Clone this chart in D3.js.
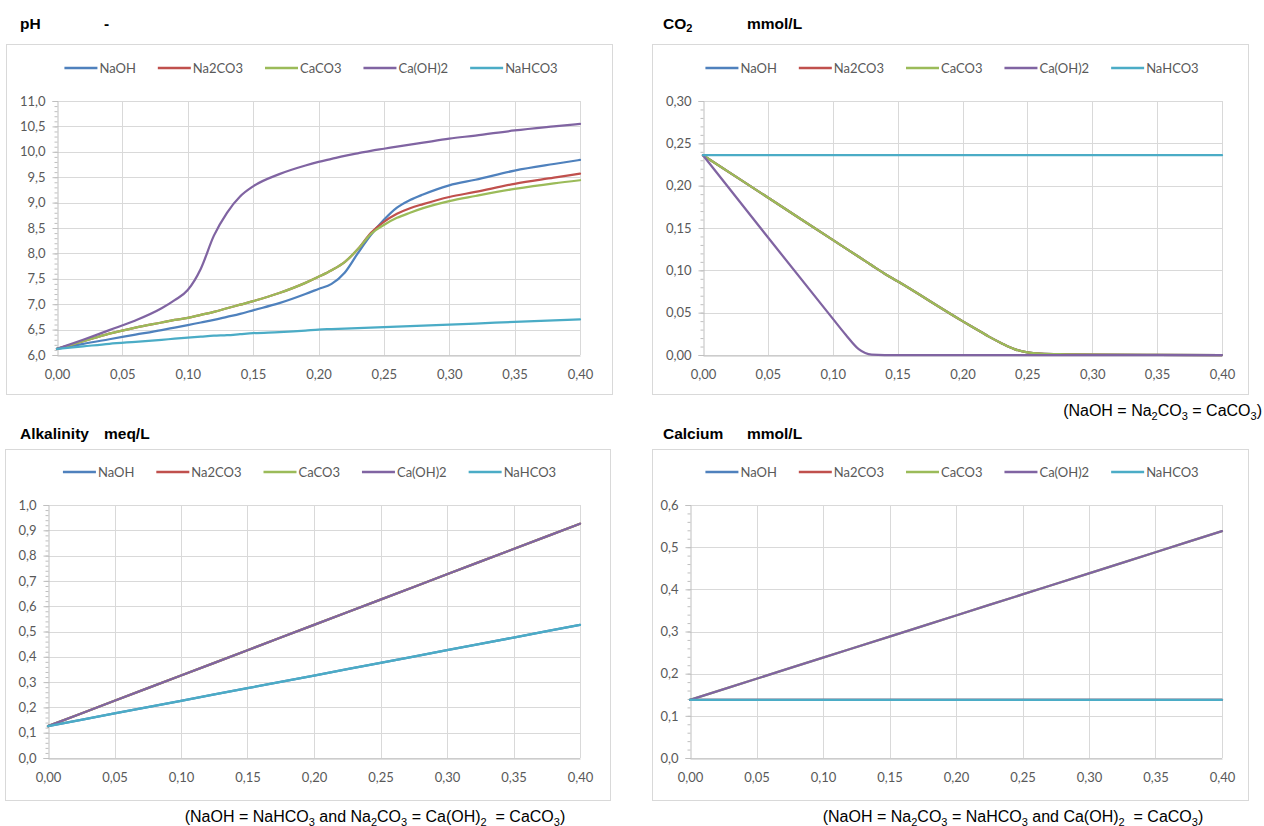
<!DOCTYPE html>
<html>
<head>
<meta charset="utf-8">
<script src="https://cdn.jsdelivr.net/npm/d3@7"></script>
<style>
  body { margin: 0; background: #ffffff; }
  svg { display: block; }
  text.note { white-space: pre; }
</style>
</head>
<body>
<svg id="chart" width="1264" height="826"></svg>
<script>
// ---- Series shared by all four panels ----
const seriesNames = ["NaOH", "Na2CO3", "CaCO3", "Ca(OH)2", "NaHCO3"];
const seriesColors = ["#4F81BD", "#C0504D", "#9BBB59", "#8064A2", "#4BACC6"];

// Dose axis ticks (mmol/L of chemical added)
const doseTicks = [0, 0.05, 0.10, 0.15, 0.20, 0.25, 0.30, 0.35, 0.40];

// ---- pH ----
const phDose    = [0, 0.02, 0.04, 0.06, 0.08, 0.09, 0.10, 0.11, 0.12, 0.13, 0.14, 0.15, 0.17, 0.19, 0.20, 0.21, 0.22, 0.23, 0.24, 0.25, 0.26, 0.27, 0.28, 0.30, 0.32, 0.35, 0.38, 0.40];
const phNaOH    = [6.12, 6.22, 6.31, 6.40, 6.49, 6.54, 6.59, 6.64, 6.69, 6.75, 6.81, 6.88, 7.02, 7.20, 7.30, 7.40, 7.62, 8.00, 8.36, 8.66, 8.90, 9.05, 9.16, 9.34, 9.45, 9.63, 9.76, 9.84];
const phNa2CO3  = [6.12, 6.27, 6.42, 6.54, 6.64, 6.69, 6.73, 6.79, 6.85, 6.92, 6.99, 7.06, 7.22, 7.42, 7.54, 7.67, 7.83, 8.08, 8.40, 8.62, 8.78, 8.89, 8.97, 9.11, 9.21, 9.37, 9.49, 9.57];
const phCaCO3   = [6.12, 6.27, 6.42, 6.54, 6.64, 6.69, 6.73, 6.79, 6.85, 6.92, 6.99, 7.06, 7.22, 7.42, 7.54, 7.67, 7.83, 8.08, 8.38, 8.56, 8.70, 8.80, 8.89, 9.03, 9.13, 9.27, 9.38, 9.44];
const phCaOH2   = [6.12, 6.30, 6.49, 6.68, 6.92, 7.08, 7.28, 7.70, 8.35, 8.80, 9.12, 9.32, 9.56, 9.73, 9.80, 9.86, 9.92, 9.97, 10.02, 10.06, 10.10, 10.14, 10.18, 10.26, 10.32, 10.42, 10.50, 10.55];
const phNaHCO3  = [6.12, 6.17, 6.22, 6.26, 6.30, 6.32, 6.34, 6.36, 6.38, 6.39, 6.41, 6.43, 6.45, 6.48, 6.50, 6.51, 6.52, 6.53, 6.54, 6.55, 6.56, 6.57, 6.58, 6.60, 6.62, 6.65, 6.68, 6.70];
const phTicks   = [6.0, 6.5, 7.0, 7.5, 8.0, 8.5, 9.0, 9.5, 10.0, 10.5, 11.0];

// ---- CO2 (mmol/L) ----
const co2Dose    = [0, 0.05, 0.10, 0.11, 0.12, 0.13, 0.14, 0.15, 0.20, 0.21, 0.22, 0.23, 0.24, 0.25, 0.26, 0.28, 0.30, 0.35, 0.40];
const co2NaOH    = [0.236, 0.186, 0.136, 0.126, 0.116, 0.106, 0.096, 0.087, 0.040, 0.031, 0.022, 0.014, 0.007, 0.003, 0.0015, 0.0008, 0.0004, 0.0001, 0];
const co2Na2CO3  = [0.236, 0.186, 0.136, 0.126, 0.116, 0.106, 0.096, 0.087, 0.040, 0.031, 0.022, 0.014, 0.007, 0.003, 0.0015, 0.0008, 0.0004, 0.0001, 0];
const co2CaCO3   = [0.236, 0.186, 0.136, 0.126, 0.116, 0.106, 0.096, 0.087, 0.040, 0.031, 0.022, 0.014, 0.007, 0.003, 0.0015, 0.0008, 0.0004, 0.0001, 0];
const co2CaOH2   = [0.236, 0.139, 0.043, 0.024, 0.007, 0.0005, 0, 0, 0, 0, 0, 0, 0, 0, 0, 0, 0, 0, 0];
const co2NaHCO3  = [0.236, 0.236, 0.236, 0.236, 0.236, 0.236, 0.236, 0.236, 0.236, 0.236, 0.236, 0.236, 0.236, 0.236, 0.236, 0.236, 0.236, 0.236, 0.236];
const co2Ticks   = [0, 0.05, 0.10, 0.15, 0.20, 0.25, 0.30];

// ---- Alkalinity (meq/L) ----
const alkDose    = [0, 0.05, 0.10, 0.15, 0.20, 0.25, 0.30, 0.35, 0.40];
const alkNaOH    = [0.126, 0.176, 0.226, 0.276, 0.326, 0.376, 0.426, 0.476, 0.526];
const alkNa2CO3  = [0.126, 0.226, 0.326, 0.426, 0.526, 0.626, 0.726, 0.826, 0.926];
const alkCaCO3   = [0.126, 0.226, 0.326, 0.426, 0.526, 0.626, 0.726, 0.826, 0.926];
const alkCaOH2   = [0.126, 0.226, 0.326, 0.426, 0.526, 0.626, 0.726, 0.826, 0.926];
const alkNaHCO3  = [0.126, 0.176, 0.226, 0.276, 0.326, 0.376, 0.426, 0.476, 0.526];
const alkTicks   = [0, 0.1, 0.2, 0.3, 0.4, 0.5, 0.6, 0.7, 0.8, 0.9, 1.0];

// ---- Calcium (mmol/L) ----
const caDose     = [0, 0.05, 0.10, 0.15, 0.20, 0.25, 0.30, 0.35, 0.40];
const caNaOH     = [0.138, 0.138, 0.138, 0.138, 0.138, 0.138, 0.138, 0.138, 0.138];
const caNa2CO3   = [0.138, 0.138, 0.138, 0.138, 0.138, 0.138, 0.138, 0.138, 0.138];
const caCaCO3    = [0.138, 0.188, 0.238, 0.288, 0.338, 0.388, 0.438, 0.488, 0.538];
const caCaOH2    = [0.138, 0.188, 0.238, 0.288, 0.338, 0.388, 0.438, 0.488, 0.538];
const caNaHCO3   = [0.138, 0.138, 0.138, 0.138, 0.138, 0.138, 0.138, 0.138, 0.138];
const caTicks    = [0, 0.1, 0.2, 0.3, 0.4, 0.5, 0.6];

// ---- Drawing ----
const svg = d3.select("#chart");
const FONT = "Lato, 'Liberation Sans', Arial, sans-serif";
const TITLE_FONT = "'Liberation Sans', Arial, sans-serif";
const comma = f => v => d3.format(f)(v).replace(".", ",");

const panels = [
  { title: "pH", unit: "-", titleX: 20, titleY: 29,
    box: [6, 44, 612, 394], plot: [57, 101, 580, 355], legendY: 68,
    dose: phDose, series: [phNaOH, phNa2CO3, phCaCO3, phCaOH2, phNaHCO3],
    yDomain: [6, 11], yTicks: phTicks, yMinor: 0.1, yFmt: comma(".1f") },
  { title: "CO", sub: "2", unit: "mmol/L", titleX: 663, titleY: 29,
    box: [652, 44, 1248, 394], plot: [703, 101, 1222, 355], legendY: 68,
    dose: co2Dose, series: [co2NaOH, co2Na2CO3, co2CaCO3, co2CaOH2, co2NaHCO3],
    yDomain: [0, 0.30], yTicks: co2Ticks, yMinor: 0.01, yFmt: comma(".2f") },
  { title: "Alkalinity", unit: "meq/L", titleX: 20, titleY: 439,
    box: [5, 449, 610, 800], plot: [48, 505, 580, 758], legendY: 472,
    dose: alkDose, series: [alkNaOH, alkNa2CO3, alkCaCO3, alkCaOH2, alkNaHCO3],
    yDomain: [0, 1.0], yTicks: alkTicks, yMinor: 0.02, yFmt: comma(".1f") },
  { title: "Calcium", unit: "mmol/L", titleX: 663, titleY: 439,
    box: [652, 449, 1248, 800], plot: [690, 505, 1222, 758], legendY: 472,
    dose: caDose, series: [caNaOH, caNa2CO3, caCaCO3, caCaOH2, caNaHCO3],
    yDomain: [0, 0.6], yTicks: caTicks, yMinor: 0.02, yFmt: comma(".1f") }
];

panels.forEach(p => {
  const [bx0, by0, bx1, by1] = p.box;
  const [pl, pt, pr, pb] = p.plot;

  // chart frame
  svg.append("rect")
    .attr("x", bx0 + 0.5).attr("y", by0 + 0.5)
    .attr("width", bx1 - bx0).attr("height", by1 - by0)
    .attr("fill", "#ffffff").attr("stroke", "#d9d9d9").attr("stroke-width", 1);

  // title and unit
  const t = svg.append("text")
    .attr("x", p.titleX).attr("y", p.titleY)
    .attr("font-family", TITLE_FONT).attr("font-weight", "bold")
    .attr("font-size", 15.5).attr("fill", "#000");
  t.append("tspan").text(p.title);
  if (p.sub) {
    t.append("tspan").attr("font-size", 11).attr("dy", 3).text(p.sub);
  }
  svg.append("text")
    .attr("x", p.titleX + 84).attr("y", p.titleY)
    .attr("font-family", TITLE_FONT).attr("font-weight", "bold")
    .attr("font-size", 15.5).attr("fill", "#000").text(p.unit);

  const x = d3.scaleLinear().domain([0, 0.40]).range([pl, pr]);
  const y = d3.scaleLinear().domain(p.yDomain).range([pb, pt]);

  // gridlines
  const grid = svg.append("g").attr("stroke", "#d9d9d9").attr("stroke-width", 1);
  p.yTicks.forEach(v => {
    const yy = Math.round(y(v)) + 0.5;
    grid.append("line").attr("x1", pl).attr("x2", pr).attr("y1", yy).attr("y2", yy);
  });
  doseTicks.forEach(v => {
    if (v === 0) return;
    const xx = Math.round(x(v)) + 0.5;
    grid.append("line").attr("x1", xx).attr("x2", xx).attr("y1", pt).attr("y2", pb);
  });

  // y axis with major and minor ticks
  const yAxis = d3.axisLeft(y).tickValues(p.yTicks).tickFormat(p.yFmt).tickSize(5).tickPadding(7);
  const yMinorVals = d3.range(p.yDomain[0], p.yDomain[1] + p.yMinor / 2, p.yMinor);
  const yMinorAxis = d3.axisLeft(y).tickValues(yMinorVals).tickFormat("").tickSize(3).tickSizeOuter(0);
  const gyMinor = svg.append("g").attr("transform", `translate(${pl + 0.5},0)`).call(yMinorAxis);
  gyMinor.select(".domain").remove();
  gyMinor.selectAll("line").attr("stroke", "#bfbfbf");
  const gy = svg.append("g").attr("transform", `translate(${pl + 0.5},0)`).call(yAxis);
  gy.select(".domain").attr("stroke", "#bfbfbf");
  gy.selectAll("line").attr("stroke", "#bfbfbf");
  gy.selectAll("text").attr("font-family", FONT).attr("font-size", 13).attr("fill", "#595959");

  // x axis
  const xAxis = d3.axisBottom(x).tickValues(doseTicks).tickFormat(comma(".2f")).tickSize(0).tickPadding(14);
  const gx = svg.append("g").attr("transform", `translate(0,${Math.round(pb) + 0.5})`).call(xAxis);
  gx.select(".domain").attr("stroke", "#bfbfbf");
  gx.selectAll("text").attr("font-family", FONT).attr("font-size", 13).attr("fill", "#595959");

  // series lines (later series drawn on top)
  const line = d3.line()
    .x(d => x(d[0])).y(d => y(d[1]))
    .curve(d3.curveMonotoneX);
  p.series.forEach((vals, i) => {
    const pts = p.dose.map((d, k) => [d, vals[k]]);
    svg.append("path")
      .attr("d", line(pts))
      .attr("fill", "none")
      .attr("stroke", seriesColors[i])
      .attr("stroke-width", 2.25)
      .attr("stroke-linejoin", "round")
      .attr("stroke-linecap", "round");
  });

  // legend, centred in the frame
  const lg = svg.append("g");
  let cx = 0;
  seriesNames.forEach((name, i) => {
    const item = lg.append("g").attr("transform", `translate(${cx},0)`);
    item.append("line").attr("x1", 0).attr("x2", 33).attr("y1", 0).attr("y2", 0)
      .attr("stroke", seriesColors[i]).attr("stroke-width", 2.5);
    const tx = item.append("text").attr("x", 35).attr("y", 4.5)
      .attr("font-family", FONT).attr("font-size", 13).attr("fill", "#595959").text(name);
    const w = tx.node().getComputedTextLength();
    cx += 35 + w + 22;
  });
  const total = cx - 22;
  const lx = (bx0 + bx1) / 2 - total / 2 + 2;
  lg.attr("transform", `translate(${lx},${p.legendY})`);
});

// ---- Equivalence notes under the panels ----
// parts: [text, isSubscript]; subscripts are lowered and the following text restored
function note(parts, x, y, anchor) {
  const t = svg.append("text").attr("class", "note").attr("x", x).attr("y", y)
    .attr("font-family", "'Liberation Sans', Arial, sans-serif")
    .attr("font-size", 16).attr("fill", "#000").attr("text-anchor", anchor);
  let lowered = false;
  parts.forEach(([s, isSub]) => {
    const ts = t.append("tspan").text(s);
    if (isSub) {
      ts.attr("font-size", 11).attr("dy", lowered ? 0 : 3.5);
      lowered = true;
    } else {
      ts.attr("dy", lowered ? -3.5 : 0);
      lowered = false;
    }
  });
}
note([["(NaOH = Na", 0], ["2", 1], ["CO", 0], ["3", 1], [" = CaCO", 0], ["3", 1], [")", 0]], 1262, 416, "end");
note([["(NaOH = NaHCO", 0], ["3", 1], [" and Na", 0], ["2", 1], ["CO", 0], ["3", 1], [" = Ca(OH)", 0], ["2", 1], ["  = CaCO", 0], ["3", 1], [")", 0]], 375, 822, "middle");
note([["(NaOH = Na", 0], ["2", 1], ["CO", 0], ["3", 1], [" = NaHCO", 0], ["3", 1], [" and Ca(OH)", 0], ["2", 1], ["  = CaCO", 0], ["3", 1], [")", 0]], 1013, 822, "middle");
</script>
</body>
</html>
